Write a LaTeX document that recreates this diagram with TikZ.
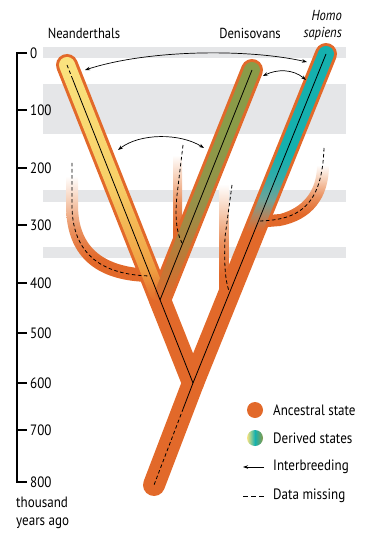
\documentclass[tikz,border=0pt]{standalone}
\usepackage{fontspec}
\setmainfont{PT Sans}[FakeStretch=0.87]
\usetikzlibrary{arrows.meta,calc,positioning}
\definecolor{anc}{RGB}{226,105,42}
\definecolor{neanyellow}{RGB}{250,228,128}
\definecolor{neanlight}{RGB}{248,208,104}
\definecolor{neanmid}{RGB}{240,160,66}
\definecolor{denolive}{RGB}{138,155,72}
\definecolor{denmid}{RGB}{152,144,72}
\definecolor{denbrown}{RGB}{192,120,54}
\definecolor{sapteal}{RGB}{21,176,174}
\definecolor{sapmid}{RGB}{50,172,168}
\definecolor{sapgrey}{RGB}{114,162,150}
\definecolor{sapbrown}{RGB}{178,132,94}
\definecolor{fadedeep}{RGB}{234,145,95}
\definecolor{fadepeach}{RGB}{246,205,180}
\definecolor{band}{RGB}{229,230,232}
\pgfdeclareverticalshading{neanshade}{100bp}{color(0bp)=(anc); color(25bp)=(anc); color(32bp)=(neanmid); color(50bp)=(neanlight); color(75bp)=(neanyellow); color(100bp)=(neanyellow)}
\pgfdeclareverticalshading{denshade}{100bp}{color(0bp)=(anc); color(25bp)=(anc); color(33bp)=(denbrown); color(45bp)=(denmid); color(60bp)=(denolive); color(100bp)=(denolive)}
\pgfdeclareverticalshading{sapshade}{100bp}{color(0bp)=(anc); color(25bp)=(anc); color(33bp)=(anc); color(36.5bp)=(sapbrown); color(40bp)=(sapgrey); color(45bp)=(sapmid); color(50bp)=(sapteal); color(100bp)=(sapteal)}
\pgfdeclareverticalshading{fadeshade}{100bp}{color(0bp)=(anc); color(25bp)=(anc); color(36bp)=(anc); color(50bp)=(fadedeep); color(63bp)=(fadepeach); color(75bp)=(white); color(100bp)=(white)}
\tikzset{
    outertube/.style={draw=anc,line width=22pt,line cap=round,line join=round},
    fadetube/.style={shading=fadeshade},
    lineage/.style={black,line width=0.8pt},
    missing/.style={black,line width=0.8pt,dash pattern=on 3.5pt off 2.5pt},
    interbreed/.style={black,line width=0.7pt,<->,>={Stealth[length=5pt,width=3.5pt]}},
    ticklabel/.style={anchor=west,inner sep=0pt,font=\fontsize{15}{17}\selectfont},
    toplabel/.style={inner sep=0pt,font=\fontsize{14.5}{17}\selectfont},
    legendtext/.style={anchor=west,inner sep=0pt,font=\fontsize{15}{17}\selectfont},
    legenddot/.style={circle,inner sep=0pt,minimum size=16pt}
}
% inner coloured part of a tube, from the tip #1 down to #2
\newcommand{\innertube}[3]{%
  \coordinate (it-e) at ($(#1)!-8pt!(#2)$);
  \coordinate (it-a) at ($(it-e)!8pt!90:(#2)$);
  \coordinate (it-b) at ($(it-e)!8pt!-90:(#2)$);
  \coordinate (it-c) at ($(#2)!8pt!90:(#1)$);
  \coordinate (it-d) at ($(#2)!8pt!-90:(#1)$);
  \shade[shading=#3,rounded corners=7.9pt] (it-d) -- (it-a) -- (it-b) -- (it-c) [sharp corners] -- cycle;}
\begin{document}
\begin{tikzpicture}[x=1pt,y=-1pt]
  \useasboundingbox (0,0) rectangle (366,540);
  % time bands
  \fill[band] (43,47) rectangle (346,58);
  \fill[band] (43,84) rectangle (346,134);
  \fill[band] (43,190) rectangle (346,202);
  \fill[band] (43,247) rectangle (346,258);
  % time axis
  \draw[line width=1.6pt] (27,53) -- (17,53) -- (17,482) -- (27,482);
  \foreach \v/\y in {0/53,100/110,200/168,300/225,400/283,500/333,600/383,700/430,800/482}{
    \draw[line width=1.6pt] (17,\y) -- (27,\y);
    \node[ticklabel] (tick\v) at (30,\y) {\v};
  }
  \node[anchor=north west,inner sep=0pt,align=left,font=\fontsize{15}{18}\selectfont] (axistitle) at (16,497) {thousand\\years ago};

  \coordinate (tbase) at (154,485);
  \coordinate (fork) at (193,383);
  \coordinate (njunc) at (160,300);
  \coordinate (ntop) at (67,65);
  \coordinate (dtop) at (252,70);
  \coordinate (stop) at (326,54);
  \coordinate (sapend) at ($(fork)!0.36!(stop)$);

  % faded archaic side branches
  \shade[fadetube] (66,176) -- (66,205) .. controls (66,266) and (108,282) .. (152,282)
     -- (152,269) .. controls (112,268) and (78,254) .. (78,205) -- (78,176) -- cycle;
  \shade[fadetube] (173,155) -- (173,238) -- (186,250) -- (182,232) -- (182,155) -- cycle;
  \shade[fadetube] (219,184) rectangle (228.5,300);
  \shade[fadetube] (256,228) -- (280,226) .. controls (312,220) and (329,198) .. (329,165)
     -- (317,165) .. controls (317,192) and (302,208) .. (280,214) -- (256,216) -- cycle;

  % main tubes
  \draw[outertube] (tbase) -- (fork) -- (njunc) -- (ntop);
  \draw[outertube] (njunc) -- (dtop);
  \draw[outertube] (fork) -- (stop);
  \innertube{ntop}{njunc}{neanshade}
  \innertube{dtop}{njunc}{denshade}
  \innertube{stop}{sapend}{sapshade}

  % lineages
  \coordinate (nsolid) at ($(ntop)!0.045!(fork)$);
  \coordinate (tsolid) at ($(fork)!0.25!(tbase)$);
  \draw[missing] (ntop) -- (nsolid);
  \draw[lineage] (nsolid) -- (fork) -- (tsolid);
  \draw[missing] (tsolid) -- (tbase);
  \draw[lineage] (dtop) -- (njunc);
  \draw[lineage] (stop) -- (fork);

  \coordinate (s1top) at (72,163);
  \coordinate (s1j) at (150,276);
  \coordinate (s2top) at (183,145);
  \coordinate (s2j) at (182,243);
  \coordinate (s3top) at (232,185);
  \coordinate (s3j) at (229,291);
  \coordinate (s4top) at (324,148);
  \coordinate (s4j) at (259,221);
  \draw[missing] (s1top) -- (72,205) .. controls (72,262) and (112,275) .. (s1j);
  \draw[missing] (s2top) -- (177,195) .. controls (175,215) and (176,232) .. (s2j);
  \draw[missing] (s3top) -- (225,237) .. controls (224,262) and (225,280) .. (s3j);
  \draw[missing] (s4top) .. controls (322,205) and (300,220) .. (s4j);

  % interbreeding
  \coordinate (nA) at (85,70);
  \coordinate (sA) at (307,62);
  \coordinate (dB) at (263,76);
  \coordinate (sB) at (306,80);
  \coordinate (nC) at (118,150);
  \coordinate (dC) at (204,148);
  \draw[interbreed] (nA) .. controls (150,49) and (250,49) .. (sA);
  \draw[interbreed] (dB) .. controls (277,69) and (293,69) .. (sB);
  \draw[interbreed] (nC) .. controls (140,133) and (180,133) .. (dC);

  \node[toplabel] (neanlabel) at (84,33) {Neanderthals};
  \node[toplabel] (denlabel) at (250,33) {Denisovans};
  \node[toplabel,anchor=east,align=right,font=\fontsize{14.5}{17}\selectfont\itshape] (saplabel) at (342,25) {Homo\\sapiens};

  % legend
  \node[legenddot,fill=anc] (ancdot) at (255,410) {};
  \node[legenddot,left color=neanyellow,right color=denolive,middle color=sapteal] (derdot) at (255,438) {};
  \coordinate (ibright) at (264,467);
  \coordinate (ibleft) at (243,467);
  \draw[black,line width=0.8pt,-{Stealth[length=5pt,width=3.5pt]}] (ibright) -- (ibleft);
  \coordinate (dmleft) at (243,496);
  \coordinate (dmright) at (264,496);
  \draw[black,line width=0.8pt,dash pattern=on 5pt off 3pt] (dmleft) -- (dmright);
  \node[legendtext] (anctext) at (273,410) {Ancestral state};
  \node[legendtext] (dertext) at (273,438) {Derived states};
  \node[legendtext] (ibtext) at (273,467) {Interbreeding};
  \node[legendtext] (dmtext) at (273,496) {Data missing};
\end{tikzpicture}
\end{document}
